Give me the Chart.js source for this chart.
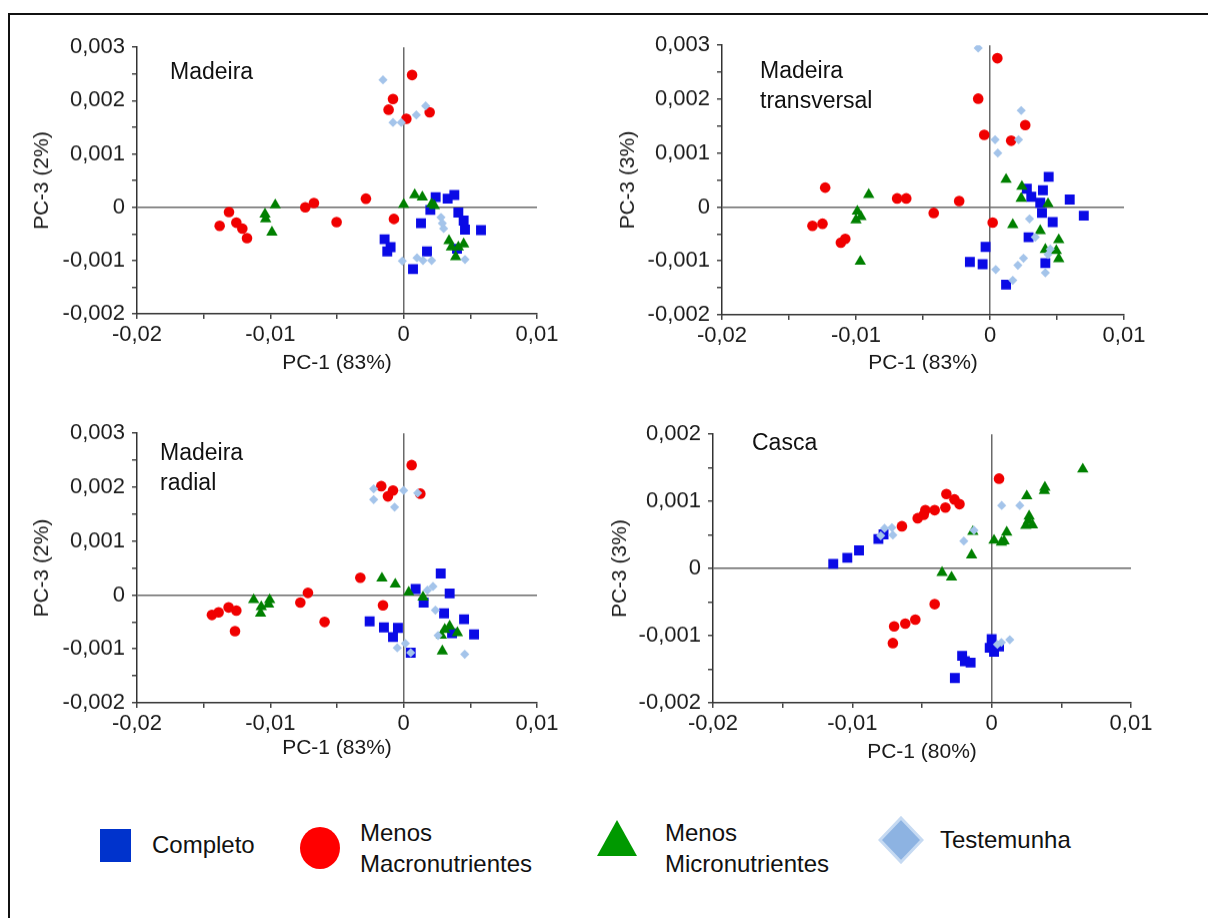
<!DOCTYPE html>
<html lang="pt">
<head>
<meta charset="UTF-8">
<title>PCA - Madeira e Casca</title>
<script src="https://cdn.jsdelivr.net/npm/chart.js"></script>
<style>
    body { margin: 0; background: #fff; font-family: "Liberation Sans", Arial, sans-serif; }
    #figura { position: relative; width: 1208px; height: 918px; overflow: hidden; }
    .moldura { position: absolute; left: 8px; top: 13px; width: 1300px; height: 1000px; border: 2px solid #111; }
    .painel { position: absolute; }
    .rotulo { position: absolute; font-size: 23px; line-height: 30px; color: #111; }
    .leg-texto { position: absolute; font-size: 24px; line-height: 31px; color: #111; }
    .leg-marca { position: absolute; }
</style>
</head>
<body>
<div id="figura">
    <div class="moldura"></div>

    <div class="rotulo" style="left:170px; top:56px;">Madeira</div>
    <div class="rotulo" style="left:760px; top:55px;">Madeira<br>transversal</div>
    <div class="rotulo" style="left:160px; top:437px;">Madeira<br>radial</div>
    <div class="rotulo" style="left:752px; top:427px;">Casca</div>

    <!-- legenda -->
    <div class="leg-marca" style="left:100px; top:829px; width:31px; height:33px; background:#0033cc;"></div>
    <div class="leg-texto" style="left:152px; top:829px;">Completo</div>
    <div class="leg-marca" style="left:300px; top:827px; width:40px; height:42px; border-radius:50%; background:#ff0000;"></div>
    <div class="leg-texto" style="left:360px; top:817px;">Menos<br>Macronutrientes</div>
    <svg class="leg-marca" style="left:597px; top:820px;" width="40" height="36"><polygon points="20,0 40,36 0,36" fill="#009900"/></svg>
    <div class="leg-texto" style="left:665px; top:817px;">Menos<br>Micronutrientes</div>
    <svg class="leg-marca" style="left:878px; top:816px;" width="46" height="48"><polygon points="23,2 44,24 23,46 2,24" fill="#8db3e2" stroke="#c6daf2" stroke-width="3"/></svg>
    <div class="leg-texto" style="left:940px; top:824px;">Testemunha</div>
</div>

<script>
// séries (PC-1, PC-3)
var series = ['Completo', 'Menos Macronutrientes', 'Menos Micronutrientes', 'Testemunha'];

// Madeira
var madeiraCompleto = [[0.0024,0.00019],[0.0033,0.00016],[0.0038,0.00023],[0.0020,-0.00005],[0.0041,-0.0001],[0.0045,-0.00025],[0.0046,-0.00042],[0.0058,-0.00043],[0.0013,-0.0003],[-0.00143,-0.0006],[-0.00098,-0.00075],[-0.00123,-0.00083],[0.00175,-0.00083],[0.0007,-0.00116],[0.0040,-0.00078]];
var madeiraMacro = [[0.00063,0.00248],[-0.0008,0.00203],[-0.00113,0.00183],[0.0002,0.00166],[0.00195,0.00178],[-0.00283,0.00016],[-0.00073,-0.00022],[-0.00738,0],[-0.00673,0.00008],[-0.00503,-0.00028],[-0.0131,-0.00009],[-0.0138,-0.00035],[-0.01255,-0.00029],[-0.0121,-0.0004],[-0.01175,-0.00058]];
var madeiraMicro = [[-0.00963,0.00004],[-0.0104,-0.00013],[-0.01035,-0.00022],[-0.00988,-0.00047],[0,0.00005],[0.00083,0.00023],[0.0014,0.00019],[0.0021,0.00006],[0.0023,0.00003],[0.0034,-0.00063],[0.00358,-0.00075],[0.0039,-0.00093],[0.0045,-0.00069],[0.0041,-0.00075]];
var madeiraTestemunha = [[-0.00155,0.00239],[0.00165,0.0019],[0.00095,0.00173],[-0.0008,0.00159],[-0.00018,0.00159],[0.0028,-0.00019],[0.0030,-0.0004],[0.0029,-0.0003],[-0.0001,-0.00101],[0.001,-0.00095],[0.00145,-0.001],[0.0021,-0.001],[0.0046,-0.00098]];

// Madeira transversal
var transvCompleto = [[0.00438,0.00056],[0.00275,0.00034],[0.00395,0.00031],[0.00308,0.00019],[0.00375,0.00008],[0.00595,0.00014],[0.00388,-0.00011],[0.0070,-0.00016],[0.00468,-0.00028],[0.00288,-0.00056],[-0.00033,-0.00074],[-0.0015,-0.00102],[-0.00055,-0.00106],[0.00413,-0.00104],[0.0012,-0.00144]];
var transvMacro = [[0.00055,0.00276],[-0.00088,0.00201],[-0.00043,0.00134],[0.00158,0.00123],[0.00263,0.00152],[-0.0123,0.00036],[-0.01325,-0.00035],[-0.0125,-0.00031],[-0.01113,-0.00066],[-0.0108,-0.00059],[-0.00693,0.00016],[-0.00625,0.00016],[-0.0042,-0.00011],[-0.0023,0.00011],[0.0002,-0.00029]];
var transvMicro = [[-0.00905,0.00023],[-0.0099,-0.00008],[-0.00963,-0.00018],[-0.0100,-0.00024],[-0.00968,-0.00101],[0.0012,0.00051],[0.00238,0.00038],[0.00233,0.00016],[0.00433,0.00006],[0.0017,-0.00033],[0.00375,-0.00044],[0.00513,-0.00061],[0.00413,-0.00079],[0.00495,-0.00081],[0.00513,-0.00096]];
var transvTestemunha = [[-0.00088,0.00295],[0.00233,0.00179],[0.00038,0.00125],[0.00213,0.00125],[0.00058,0.001],[0.00295,-0.00022],[0.00338,-0.00056],[0.0025,-0.00095],[0.00208,-0.00108],[0.00043,-0.00116],[0.0017,-0.00136],[0.00413,-0.00122],[0.0045,-0.00078],[0.00433,-0.00088]];

// Madeira radial
var radialCompleto = [[0.00278,0.0004],[0.0009,0.00011],[0.00345,0.00003],[0.0015,-0.00014],[0.00303,-0.00034],[0.00453,-0.00045],[0.00528,-0.00073],[0.00363,-0.00071],[-0.00255,-0.00049],[-0.00148,-0.0006],[-0.00043,-0.00061],[-0.0008,-0.00078],[0.00053,-0.00107]];
var radialMacro = [[0.0006,0.00241],[-0.00168,0.00202],[-0.00118,0.00183],[-0.0008,0.00194],[0.00125,0.00188],[-0.00325,0.00032],[-0.00155,-0.00019],[-0.00718,0.00004],[-0.00775,-0.00014],[-0.00593,-0.0005],[-0.01438,-0.00037],[-0.01388,-0.00032],[-0.01313,-0.00023],[-0.01255,-0.00029],[-0.01265,-0.00067]];
var radialMicro = [[-0.01125,-0.00009],[-0.01068,-0.00022],[-0.01073,-0.00034],[-0.01005,-0.00009],[-0.01013,-0.00017],[-0.00163,0.00031],[-0.00063,0.0002],[0.00038,0.00005],[0.00145,-0.00004],[0.00345,-0.00058],[0.00403,-0.0007],[0.00308,-0.00064],[0.0029,-0.00104],[0.00283,-0.00075]];
var radialTestemunha = [[-0.00225,0.00197],[-0.00225,0.00177],[-0.00068,0.00163],[0,0.00194],[0.00105,0.00189],[0.0022,0.00016],[0.00178,0.00009],[0.00238,-0.00028],[0.00258,-0.00075],[-0.00048,-0.00098],[0.00013,-0.0009],[0.00053,-0.00107],[0.00458,-0.0011]];

// Casca
var cascaCompleto = [[-0.01137,0.00007],[-0.01036,0.00016],[-0.00952,0.00027],[-0.00813,0.00044],[-0.00776,0.00051],[0,-0.00105],[-0.00014,-0.00118],[0.00017,-0.00124],[0.00053,-0.00116],[-0.00212,-0.0013],[-0.00192,-0.00138],[-0.00151,-0.0014],[-0.00264,-0.00163]];
var cascaMacro = [[0.00053,0.00134],[-0.00325,0.00111],[-0.00267,0.00103],[-0.00231,0.00096],[-0.00332,0.00091],[-0.00409,0.00087],[-0.00476,0.00087],[-0.00488,0.0008],[-0.00531,0.00075],[-0.00644,0.00063],[-0.00409,-0.00053],[-0.00548,-0.00076],[-0.0062,-0.00082],[-0.0070,-0.00086],[-0.00709,-0.00111]];
var cascaMicro = [[0.00654,0.00148],[0.00382,0.00121],[0.00378,0.00116],[0.00252,0.00108],[0.00269,0.00078],[0.00264,0.00071],[0.00293,0.00065],[0.00245,0.00064],[0.00108,0.00054],[0.00089,0.00041],[0.00017,0.00042],[0.0007,0.00039],[-0.00135,0.00055],[-0.00144,0.0002],[-0.00356,-0.00006],[-0.00288,-0.00013]];
var cascaTestemunha = [[-0.00769,0.0006],[-0.00716,0.00061],[-0.00709,0.0005],[-0.00796,0.00049],[0.00072,0.00094],[0.00202,0.00094],[-0.00127,0.00057],[-0.002,0.00041],[0.0013,-0.00106],[0.0007,-0.0011],[0.00041,-0.00113]];

// aparência de cada série: cor, símbolo, raio, ordem de desenho
var cores = ['#0a0ae6', '#f00000', '#008000', '#a4c4ea'];
var simbolos = ['rect', 'circle', 'triangle', 'rectRot'];
var raios = [7, 5.3, 6.6, 4.6];
var ordens = [3, 2, 1, 0];

Chart.defaults.font.family = '"Liberation Sans", Arial, sans-serif';
Chart.defaults.color = '#1a1a1a';

function rotuloX(v) {
    if (Math.abs(v) < 1e-12) return '0';
    var k = v / 0.01;
    if (Math.abs(k - Math.round(k)) < 1e-6) return v.toFixed(2).replace('.', ',');
    return '';
}
function rotuloY(v) {
    if (Math.abs(v) < 1e-12) return '0';
    var k = v / 0.001;
    if (Math.abs(k - Math.round(k)) < 1e-6) return v.toFixed(3).replace('.', ',');
    return '';
}
function linhaZero(ctx) {
    return ctx.tick && Math.abs(ctx.tick.value) < 1e-12 ? '#6a6a6a' : 'rgba(0,0,0,0)';
}

// plot = [esquerda, topo, largura, altura] da área de dados, em px da página
function criarPainel(cfg) {
    var TOPO = 20, DIREITA = 40;
    var YW = cfg.plot[0] - cfg.tituloX + 14;
    var XH = (cfg.tituloY - (cfg.plot[1] + cfg.plot[3])) + 12.6 + 2;

    var caixa = document.createElement('div');
    caixa.className = 'painel';
    caixa.style.left = (cfg.plot[0] - YW) + 'px';
    caixa.style.top = (cfg.plot[1] - TOPO) + 'px';
    caixa.style.width = (YW + cfg.plot[2] + DIREITA) + 'px';
    caixa.style.height = (TOPO + cfg.plot[3] + XH) + 'px';
    var canvas = document.createElement('canvas');
    caixa.appendChild(canvas);
    document.getElementById('figura').insertBefore(caixa, document.getElementById('figura').children[1]);

    var datasets = cfg.dados.map(function (pontos, i) {
        return {
            label: series[i],
            data: pontos.map(function (p) { return { x: p[0], y: p[1] }; }),
            pointStyle: simbolos[i],
            pointRadius: raios[i],
            pointBackgroundColor: cores[i],
            pointBorderWidth: 0,
            order: ordens[i]
        };
    });

    new Chart(canvas, {
        type: 'scatter',
        data: { datasets: datasets },
        options: {
            responsive: true,
            maintainAspectRatio: false,
            animation: false,
            layout: { padding: { top: TOPO, right: DIREITA, left: 0, bottom: 0 } },
            plugins: { legend: { display: false }, tooltip: { enabled: false } },
            scales: {
                x: {
                    type: 'linear', min: -0.02, max: 0.01,
                    ticks: { stepSize: 0.005, autoSkip: false, maxRotation: 0, padding: 3, font: { size: 22 }, callback: rotuloX },
                    grid: { color: linhaZero, lineWidth: 1.5, tickColor: '#444', tickLength: 5 },
                    border: { color: '#333', width: 1.5 },
                    title: { display: true, text: cfg.xTitulo, font: { size: 21 }, padding: { top: 0, bottom: 2 } },
                    afterFit: function (s) { s.height = XH; }
                },
                y: {
                    type: 'linear', min: cfg.yMin, max: cfg.yMax,
                    ticks: { stepSize: 0.0005, autoSkip: false, padding: 7, font: { size: 22 }, callback: rotuloY },
                    grid: { color: linhaZero, lineWidth: 1.5, tickColor: '#444', tickLength: 5 },
                    border: { color: '#333', width: 1.5 },
                    title: { display: true, text: cfg.yTitulo, font: { size: 21 }, padding: { top: 1.4, bottom: 0 } },
                    afterFit: function (s) { s.width = YW; }
                }
            }
        }
    });
}

criarPainel({ plot: [137, 47, 400, 266], yMin: -0.002, yMax: 0.003, yTitulo: 'PC-3 (2%)', xTitulo: 'PC-1 (83%)', tituloX: 42, tituloY: 362,
    dados: [madeiraCompleto, madeiraMacro, madeiraMicro, madeiraTestemunha] });
criarPainel({ plot: [722, 45, 402, 269], yMin: -0.002, yMax: 0.003, yTitulo: 'PC-3 (3%)', xTitulo: 'PC-1 (83%)', tituloX: 628, tituloY: 362,
    dados: [transvCompleto, transvMacro, transvMicro, transvTestemunha] });
criarPainel({ plot: [137, 433, 400, 269], yMin: -0.002, yMax: 0.003, yTitulo: 'PC-3 (2%)', xTitulo: 'PC-1 (83%)', tituloX: 42, tituloY: 747,
    dados: [radialCompleto, radialMacro, radialMicro, radialTestemunha] });
criarPainel({ plot: [713, 434, 418, 268], yMin: -0.002, yMax: 0.002, yTitulo: 'PC-3 (3%)', xTitulo: 'PC-1 (80%)', tituloX: 620, tituloY: 751,
    dados: [cascaCompleto, cascaMacro, cascaMicro, cascaTestemunha] });
</script>
</body>
</html>
